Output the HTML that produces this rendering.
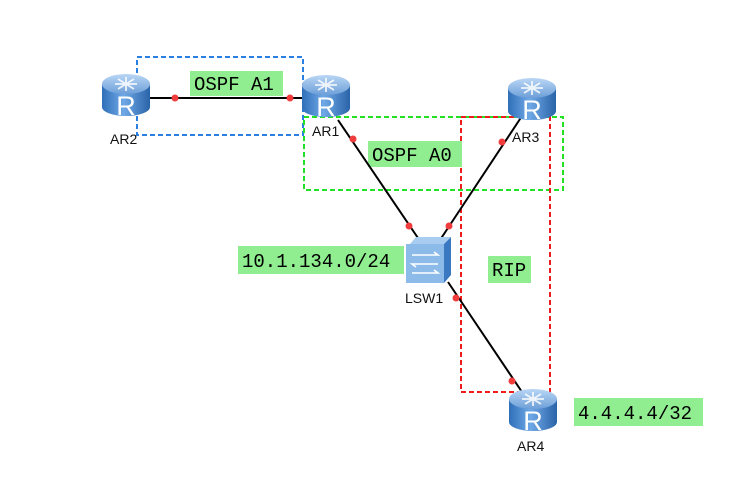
<!DOCTYPE html>
<html><head><meta charset="utf-8"><style>
html,body{margin:0;padding:0;background:#fff;}
svg{display:block;}
.m{font-family:"Liberation Mono",monospace;font-size:19px;fill:#000;}
.s{font-family:"Liberation Sans",sans-serif;font-size:14px;fill:#111;}
</style></head><body>
<svg width="744" height="492" viewBox="0 0 744 492" xmlns="http://www.w3.org/2000/svg">
<defs>
<linearGradient id="rg" x1="0" x2="1" y1="0" y2="0">
<stop offset="0" stop-color="#2f6fb8"/><stop offset="0.45" stop-color="#6fa8e6"/><stop offset="1" stop-color="#2a64a8"/>
</linearGradient>
<linearGradient id="rt" x1="0" x2="0" y1="0" y2="1">
<stop offset="0" stop-color="#b9d6f5"/><stop offset="1" stop-color="#6d9fd8"/>
</linearGradient>
<g id="router">
<path d="M0 10 L0 33 A24 9 0 0 0 48 33 L48 10 Z" fill="url(#rg)"/>
<ellipse cx="24" cy="10" rx="24" ry="10" fill="url(#rt)"/>
<path d="M13 10 h22 M24 3 v14 M16 5 l16 10 M32 5 l-16 10" stroke="#fff" stroke-width="1.8" opacity="0.85"/>
<text x="24" y="41" text-anchor="middle" font-family="Liberation Sans,sans-serif" font-size="27" fill="#fff">R</text>
</g>
</defs>
<rect x="137" y="57" width="166" height="78" fill="none" stroke="#2a7fe0" stroke-width="2" stroke-dasharray="5,3"/>
<rect x="304" y="117" width="259" height="73" fill="none" stroke="#22e022" stroke-width="2" stroke-dasharray="5,3"/>
<rect x="461" y="117" width="89" height="275" fill="none" stroke="#ee1c1c" stroke-width="2" stroke-dasharray="5,3"/>
<rect x="190" y="71" width="93" height="25" fill="#90ee90"/>
<text class="m" x="194" y="90">OSPF A1</text>
<rect x="368" y="141" width="94" height="26" fill="#90ee90"/>
<text class="m" x="372" y="161">OSPF A0</text>
<rect x="488" y="256" width="43" height="27" fill="#90ee90"/>
<text class="m" x="492" y="276">RIP</text>
<rect x="238" y="246" width="166" height="28" fill="#90ee90"/>
<text class="m" x="242" y="267">10.1.134.0/24</text>
<rect x="574" y="398" width="129" height="28" fill="#90ee90"/>
<text class="m" x="578" y="419">4.4.4.4/32</text>
<g stroke="#000" stroke-width="2">
<line x1="148" y1="98" x2="305" y2="98"/>
<line x1="338" y1="120" x2="418" y2="238"/>
<line x1="522" y1="116" x2="440" y2="240"/>
<line x1="448" y1="282" x2="522" y2="392"/>
</g>
<g fill="#f03c3c">
<circle cx="175" cy="98" r="3.5"/><circle cx="290" cy="98" r="3.5"/>
<circle cx="353" cy="139" r="3.5"/><circle cx="409" cy="226" r="3.5"/>
<circle cx="502" cy="142" r="3.5"/><circle cx="449" cy="226" r="3.5"/>
<circle cx="456" cy="298" r="3.5"/><circle cx="512" cy="381" r="3.5"/>
</g>
<use href="#router" x="102" y="74"/>
<use href="#router" x="302" y="75"/>
<use href="#router" x="508" y="78"/>
<use href="#router" x="509" y="389"/>
<polygon points="410,244 416,237 451,237 444,244" fill="#a9cdf0"/>
<polygon points="444,244 451,237 451,275 444,283" fill="#3a78c2"/>
<rect x="406" y="244" width="38" height="39" fill="#8dbbe9"/>
<g stroke="#fff" stroke-width="1.6" fill="none">
<path d="M412 255 h26 l-4 -3 M438 264 h-26 l4 3 M412 273 h26 l-4 -3"/>
</g>
<text class="s" x="110" y="144">AR2</text>
<text class="s" x="312" y="136">AR1</text>
<text class="s" x="512" y="142">AR3</text>
<text class="s" x="405" y="303">LSW1</text>
<text class="s" x="517" y="451">AR4</text>
</svg>
</body></html>
